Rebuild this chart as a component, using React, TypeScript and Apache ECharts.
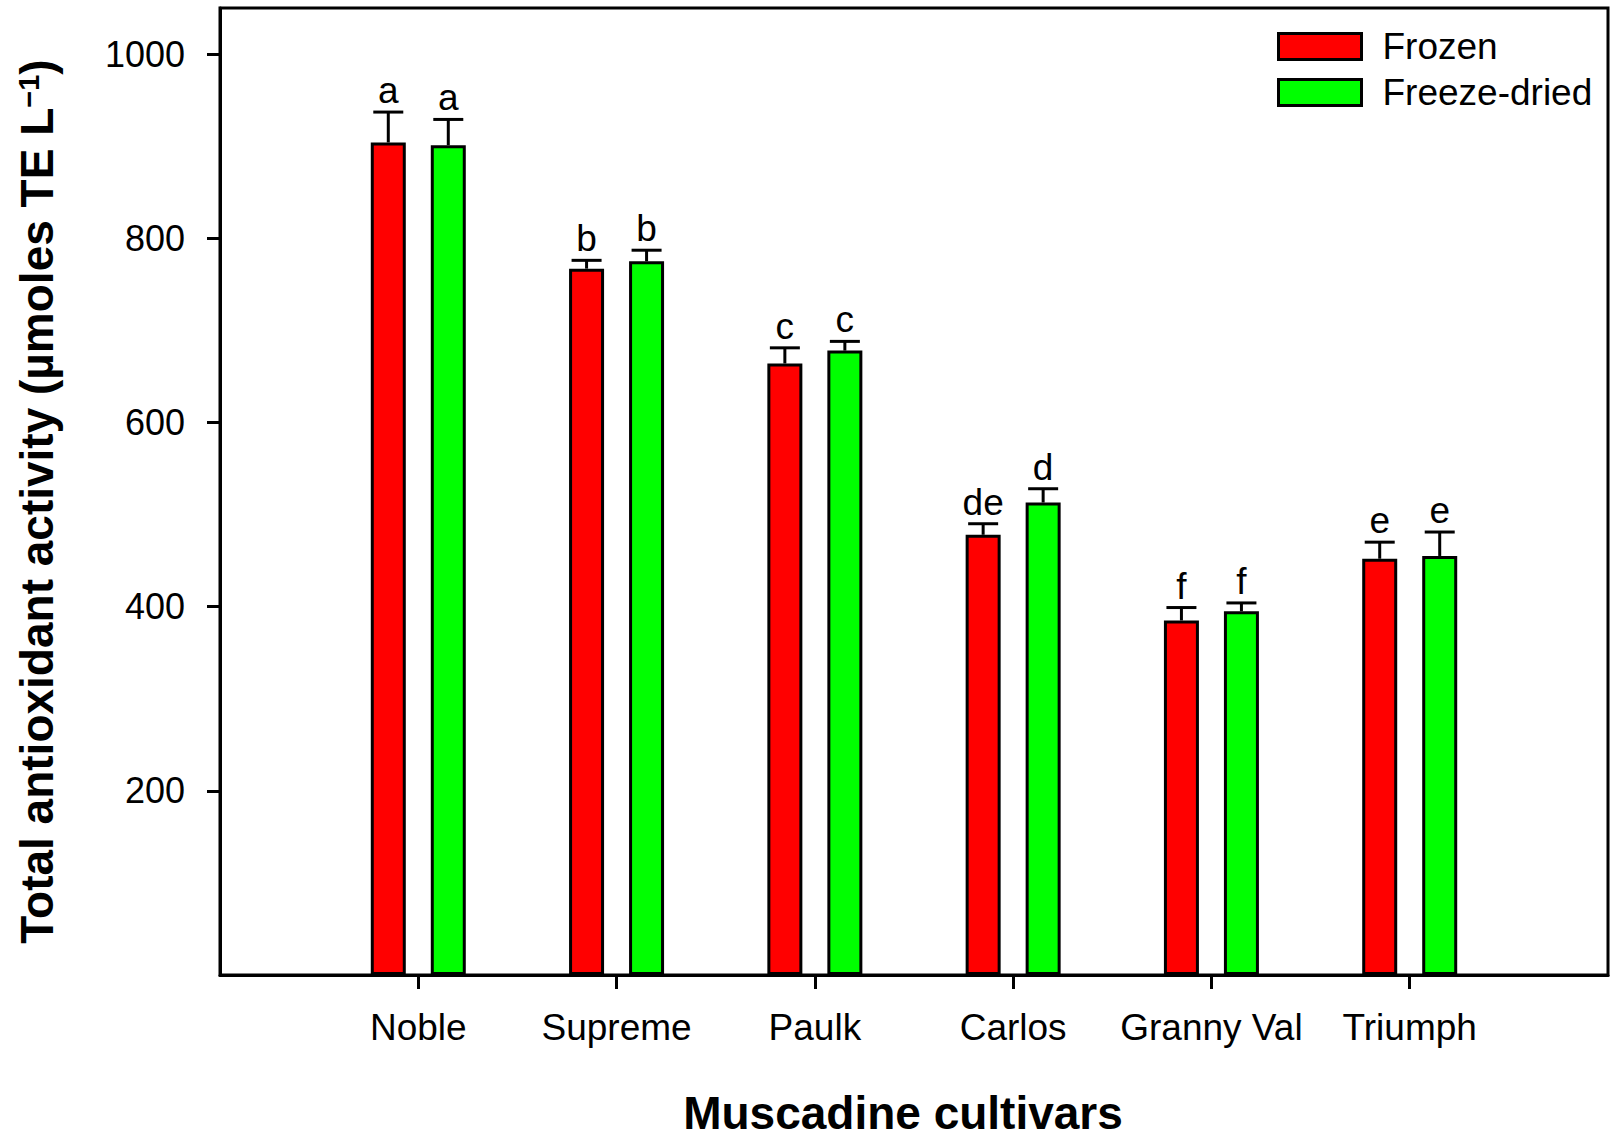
import React, { useEffect, useRef } from 'react';
import * as echarts from 'echarts';

// Muscadine cultivars: total antioxidant activity by storage method
const cultivars = ['Noble', 'Supreme', 'Paulk', 'Carlos', 'Granny Val', 'Triumph'];
const frozen = [904, 767, 664, 478, 385, 452];
const freezeDried = [901, 775, 678, 513, 395, 455];
const frozenErr = [33, 9, 17, 12, 14, 18];
const freezeDriedErr = [28, 12, 10, 15, 9, 26];
const frozenLetters = ['a', 'b', 'c', 'de', 'f', 'e'];
const freezeDriedLetters = ['a', 'b', 'c', 'd', 'f', 'e'];
const yTicks = [200, 400, 600, 800, 1000];

const FONT = '"Liberation Sans", Arial, Helvetica, sans-serif';
const BAR_W = 35;
const BAR_GAP_PX = 25;
const HALF_STEP = (BAR_W + BAR_GAP_PX) / 2;
const CAP_W = 30;

// empty slots on both ends so the six cultivars sit on positions 1..6 of 0..7
const axisCategories = ['', ...cultivars, ''];
const pad = (vals: number[]) => ['-', ...vals, '-'];

function errorSeries(values: number[], errs: number[], letters: string[], side: number) {
  return {
    type: 'custom',
    z: 5,
    data: values.map((v, i) => [i + 1, v, errs[i]]),
    renderItem: (params: any, api: any) => {
      const xi = api.value(0);
      const v = api.value(1);
      const e = api.value(2);
      const top = api.coord([xi, v]);
      const cap = api.coord([xi, v + e]);
      const x = top[0] + side * HALF_STEP;
      const line = { stroke: '#000', lineWidth: 3 };
      return {
        type: 'group',
        children: [
          { type: 'line', shape: { x1: x, y1: top[1], x2: x, y2: cap[1] }, style: line },
          { type: 'line', shape: { x1: x - CAP_W / 2, y1: cap[1], x2: x + CAP_W / 2, y2: cap[1] }, style: line },
          {
            type: 'text',
            x,
            y: cap[1] - 3,
            style: {
              text: letters[params.dataIndex],
              fill: '#000',
              fontSize: 37,
              fontFamily: FONT,
              align: 'center',
              verticalAlign: 'bottom',
            },
          },
        ],
      };
    },
  };
}

export default function App() {
  const ref = useRef<HTMLDivElement>(null);

  useEffect(() => {
    if (!ref.current) return;
    const chart = echarts.init(ref.current, undefined, { renderer: 'svg' });
    const axisLine = { lineStyle: { color: '#000', width: 3 } };
    chart.setOption({
      animation: false,
      backgroundColor: '#fff',
      grid: {
        left: 220,
        right: 11,
        top: 8,
        bottom: 162,
        show: true,
        borderColor: '#000',
        borderWidth: 3,
      },
      legend: {
        data: ['Frozen', 'Freeze-dried'],
        orient: 'vertical',
        left: 1272,
        top: 23,
        icon: 'rect',
        itemWidth: 83,
        itemHeight: 26,
        itemGap: 9,
        itemStyle: { borderColor: '#000', borderWidth: 3 },
        textStyle: {
          fontSize: 37,
          fontFamily: FONT,
          color: '#000',
          lineHeight: 37,
          padding: [0, 0, 0, 16],
        },
      },
      xAxis: {
        type: 'category',
        data: axisCategories,
        boundaryGap: false,
        axisLine,
        axisTick: {
          show: true,
          length: 14,
          lineStyle: { color: '#000', width: 3 },
          interval: (i: number) => i > 0 && i < axisCategories.length - 1,
        },
        axisLabel: {
          interval: 0,
          fontSize: 37,
          fontFamily: FONT,
          color: '#000',
          margin: 34,
        },
        splitLine: { show: false },
        name: 'Muscadine cultivars',
        nameLocation: 'middle',
        nameGap: 115,
        nameTextStyle: {
          fontSize: 46,
          fontWeight: 'bold',
          fontFamily: FONT,
          color: '#000',
          padding: [0, 22, 0, 0],
        },
      },
      yAxis: {
        type: 'value',
        min: 0,
        max: 1050,
        axisLine: { show: true, ...axisLine },
        axisTick: {
          show: true,
          length: 13,
          lineStyle: { color: '#000', width: 3 },
          customValues: yTicks,
        },
        axisLabel: {
          fontSize: 36,
          fontFamily: FONT,
          color: '#000',
          margin: 35,
          customValues: yTicks,
          formatter: (v: number) => String(v),
        },
        splitLine: { show: false },
        name: '{t|Total antioxidant activity (µmoles TE L}{s|−1}{t|)}',
        nameLocation: 'middle',
        nameRotate: 90,
        nameGap: 160,
        nameTextStyle: {
          padding: [0, 20, 0, 0],
          rich: {
            t: { fontSize: 46, fontWeight: 'bold', fontFamily: FONT, color: '#000' },
            s: { fontSize: 29, fontWeight: 'bold', fontFamily: FONT, color: '#000', verticalAlign: 'top' },
          },
        },
      },
      series: [
        {
          name: 'Frozen',
          type: 'bar',
          data: pad(frozen),
          barWidth: BAR_W,
          barGap: `${(BAR_GAP_PX / BAR_W) * 100}%`,
          itemStyle: { color: '#ff0000', borderColor: '#000', borderWidth: 3 },
        },
        {
          name: 'Freeze-dried',
          type: 'bar',
          data: pad(freezeDried),
          barWidth: BAR_W,
          barGap: `${(BAR_GAP_PX / BAR_W) * 100}%`,
          itemStyle: { color: '#00ff00', borderColor: '#000', borderWidth: 3 },
        },
        errorSeries(frozen, frozenErr, frozenLetters, -1),
        errorSeries(freezeDried, freezeDriedErr, freezeDriedLetters, 1),
      ],
    });
    return () => chart.dispose();
  }, []);

  return (
    <div
      ref={ref}
      style={{ position: 'absolute', left: 0, top: 0, width: 1619, height: 1141, background: '#fff' }}
    />
  );
}
